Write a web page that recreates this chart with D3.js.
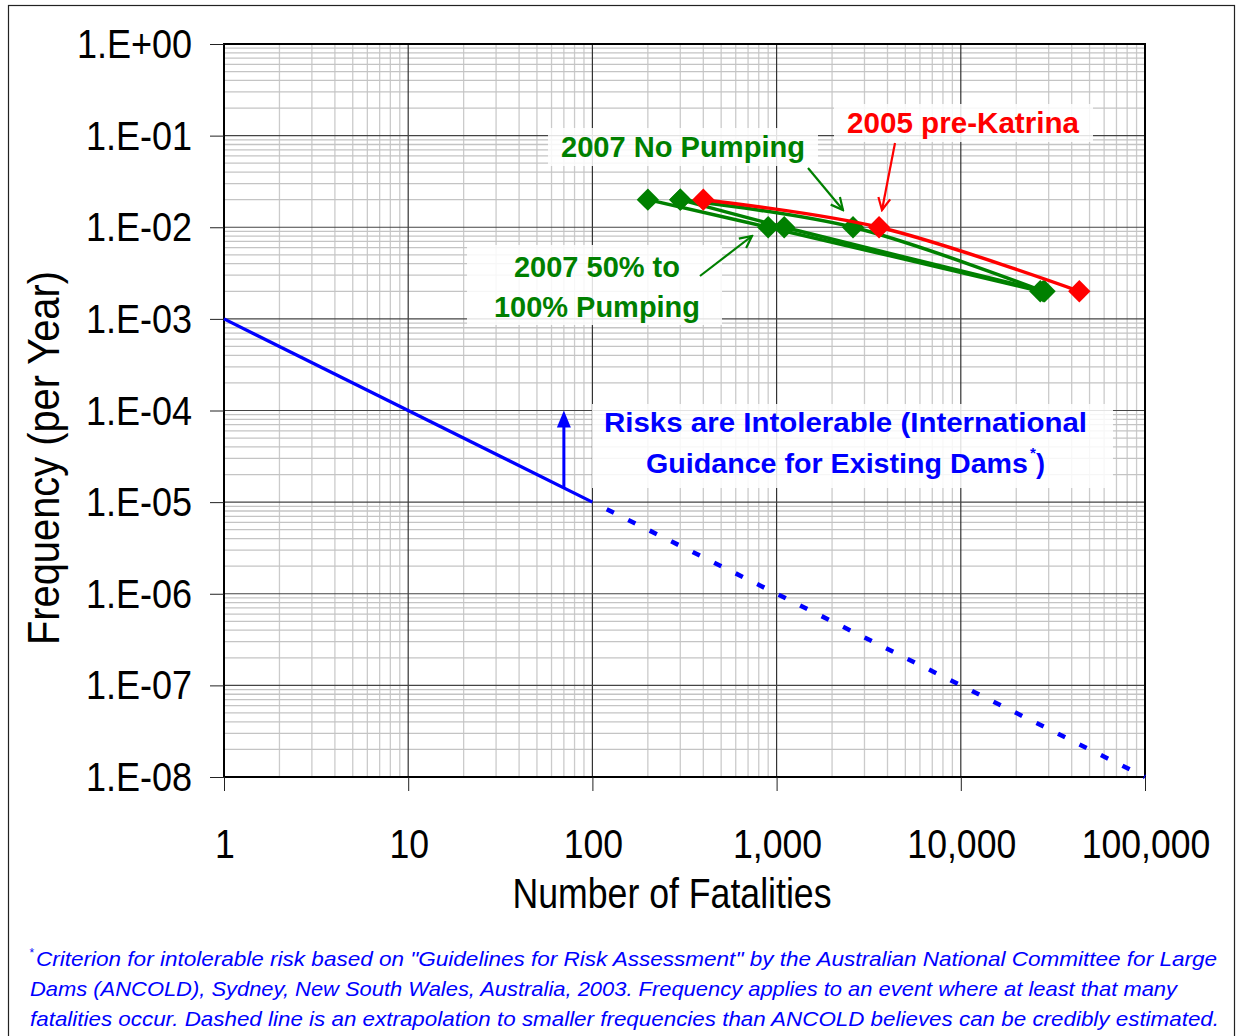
<!DOCTYPE html>
<html>
<head>
<meta charset="utf-8">
<script src="https://cdn.jsdelivr.net/npm/d3@7"></script>
<style>
  body { margin: 0; background: #fff; }
  #chart { width: 1236px; height: 1036px; }
  text { font-family: "Liberation Sans", Arial, sans-serif; }
</style>
</head>
<body>
<div id="chart"></div>
<script>
// ---- data ----
const xTicks = [1, 10, 100, 1000, 10000, 100000];
const yTicks = [1, 1e-1, 1e-2, 1e-3, 1e-4, 1e-5, 1e-6, 1e-7, 1e-8];
const yTickLabels = ['1.E+00','1.E-01','1.E-02','1.E-03','1.E-04','1.E-05','1.E-06','1.E-07','1.E-08'];

const freqLevels = [0.02, 0.01, 0.002];
const fatalRed05 = [400, 3600, 44000];       // 2005 pre-Katrina
const fatalNoPump = [300, 2600, 28000];      // 2007 No Pumping
const fatalPump50 = [200, 900, 27000];       // 2007 50% pumping
const fatalPump100 = [300, 1100, 28500];     // 2007 100% pumping

const ancoldN = [1, 100];                    // ANCOLD limit line
const ancoldF = [1e-3, 1e-5];
const extrapN = [100, 100000];               // dashed extrapolation
const extrapF = [1e-5, 1e-8];
const arrowN = 70;

const footnote = [
  ' Criterion for intolerable risk based on "Guidelines for Risk Assessment" by the Australian National Committee for Large',
  'Dams (ANCOLD), Sydney, New South Wales, Australia, 2003. Frequency applies to an event where at least that many',
  'fatalities occur. Dashed line is an extrapolation to smaller frequencies than ANCOLD believes can be credibly estimated.'
];

const width = 1236, height = 1036;
const plot = {left: 224, right: 1145, top: 44, bottom: 777};

const svg = d3.select('#chart').append('svg')
  .attr('width', width).attr('height', height);

// outer frame
svg.append('rect')
  .attr('x', 8.5).attr('y', 5.5)
  .attr('width', 1226).attr('height', 1040)
  .attr('fill', 'none').attr('stroke', '#222').attr('stroke-width', 1.2);

const x = d3.scaleLog().domain([1, 1e5]).range([plot.left, plot.right]);
const y = d3.scaleLog().domain([1e-8, 1]).range([plot.bottom, plot.top]);

// narrow the glyphs like the original
function narrow(sel, k) {
  sel.each(function () {
    const w = this.getComputedTextLength();
    d3.select(this).attr('textLength', w * k).attr('lengthAdjust', 'spacingAndGlyphs');
  });
}

// ---- grid ----
const minorX = [], minorY = [];
for (let e = 0; e < 5; e++) for (let m = 2; m <= 9; m++) minorX.push(m * Math.pow(10, e));
for (let e = -8; e < 0; e++) for (let m = 2; m <= 9; m++) minorY.push(m * Math.pow(10, e));

const grid = svg.append('g').attr('class', 'grid');
grid.selectAll('.minx').data(minorX).join('line')
  .attr('x1', d => x(d)).attr('x2', d => x(d))
  .attr('y1', plot.top).attr('y2', plot.bottom)
  .attr('stroke', '#cbcbcb').attr('stroke-width', 1.3);
grid.selectAll('.miny').data(minorY).join('line')
  .attr('y1', d => y(d)).attr('y2', d => y(d))
  .attr('x1', plot.left).attr('x2', plot.right)
  .attr('stroke', '#c4c4c4').attr('stroke-width', 1.3);
grid.selectAll('.majx').data(xTicks.slice(1, -1)).join('line')
  .attr('x1', d => x(d)).attr('x2', d => x(d))
  .attr('y1', plot.top).attr('y2', plot.bottom)
  .attr('stroke', '#333').attr('stroke-width', 1.2);
grid.selectAll('.majy').data(yTicks.slice(1, -1)).join('line')
  .attr('y1', d => y(d)).attr('y2', d => y(d))
  .attr('x1', plot.left).attr('x2', plot.right)
  .attr('stroke', '#444').attr('stroke-width', 1.2);

// frame of the plot
svg.append('rect')
  .attr('x', plot.left).attr('y', plot.top)
  .attr('width', plot.right - plot.left).attr('height', plot.bottom - plot.top)
  .attr('fill', 'none').attr('stroke', '#000').attr('stroke-width', 2);

// ---- axes ----
const yAxis = d3.axisLeft(y).tickValues(yTicks).tickSize(14).tickFormat('');
svg.append('g').attr('transform', `translate(${plot.left},0)`).call(yAxis)
  .call(g => g.select('.domain').remove())
  .call(g => g.selectAll('line').attr('stroke', '#222'));
const xAxis = d3.axisBottom(x).tickValues(xTicks).tickSize(14).tickFormat('');
svg.append('g').attr('transform', `translate(0,${plot.bottom})`).call(xAxis)
  .call(g => g.select('.domain').remove())
  .call(g => g.selectAll('line').attr('stroke', '#222'));

svg.append('g').selectAll('text').data(yTicks).join('text')
  .attr('x', 192).attr('y', d => y(d) + 14)
  .attr('text-anchor', 'end').attr('font-size', 40).attr('fill', '#000')
  .text((d, i) => yTickLabels[i])
  .call(narrow, 0.9);

svg.append('g').selectAll('text').data(xTicks).join('text')
  .attr('x', d => x(d) + 1).attr('y', 858)
  .attr('text-anchor', 'middle').attr('font-size', 40).attr('fill', '#000')
  .text(d => d3.format(',')(d))
  .call(narrow, 0.89);

svg.append('text')
  .attr('x', 672).attr('y', 908).attr('text-anchor', 'middle')
  .attr('font-size', 42).attr('fill', '#000')
  .attr('textLength', 319).attr('lengthAdjust', 'spacingAndGlyphs')
  .text('Number of Fatalities');

svg.append('text')
  .attr('transform', 'translate(59,458) rotate(-90)').attr('text-anchor', 'middle')
  .attr('font-size', 45).attr('fill', '#000')
  .attr('textLength', 374).attr('lengthAdjust', 'spacingAndGlyphs')
  .text('Frequency  (per Year)');

// ---- ANCOLD criterion ----
const logLine = d3.line().x(d => x(d[0])).y(d => y(d[1]));
svg.append('path')
  .attr('d', logLine(d3.zip(extrapN, extrapF)))
  .attr('fill', 'none').attr('stroke', '#0000ff').attr('stroke-width', 4.5)
  .attr('stroke-dasharray', '8,16').attr('stroke-dashoffset', -16);
svg.append('path')
  .attr('d', logLine(d3.zip(ancoldN, ancoldF)))
  .attr('fill', 'none').attr('stroke', '#0000ff').attr('stroke-width', 3.3);

const ax = x(arrowN);
const ay0 = y(ancoldF[0] * Math.pow(arrowN / ancoldN[0], Math.log10(ancoldF[1] / ancoldF[0]) / Math.log10(ancoldN[1] / ancoldN[0])));
const ay1 = y(1e-4);
svg.append('line')
  .attr('x1', ax).attr('x2', ax).attr('y1', ay0).attr('y2', ay1 + 12)
  .attr('stroke', '#0000ff').attr('stroke-width', 3);
svg.append('path')
  .attr('d', `M${ax},${ay1} L${ax - 7},${ay1 + 17} L${ax + 7},${ay1 + 17} Z`)
  .attr('fill', '#0000ff');

// ---- label boxes ----
const boxes = [
  {x: 834, y: 104, w: 259, h: 38},
  {x: 548, y: 128, w: 270, h: 38},
  {x: 467, y: 245, w: 255, h: 80},
  {x: 592, y: 404, w: 521, h: 84}
];
svg.append('g').selectAll('rect').data(boxes).join('rect')
  .attr('x', d => d.x).attr('y', d => d.y).attr('width', d => d.w).attr('height', d => d.h)
  .attr('fill', '#fff').attr('opacity', 0.85);

// ---- series ----
const curve = d3.line().x(d => x(d[0])).y(d => y(d[1])).curve(d3.curveCatmullRom.alpha(0.5));
const series = [
  {n: fatalPump100, color: '#008000'},
  {n: fatalPump50, color: '#008000'},
  {n: fatalNoPump, color: '#008000'},
  {n: fatalRed05, color: '#ff0000'}
];
const diamond = d3.symbol(d3.symbolSquare, 250);
series.forEach(s => {
  const pts = d3.zip(s.n, freqLevels);
  svg.append('path').attr('d', curve(pts))
    .attr('fill', 'none').attr('stroke', s.color).attr('stroke-width', 3.5);
  svg.append('g').selectAll('path').data(pts).join('path')
    .attr('d', diamond)
    .attr('transform', d => `translate(${x(d[0])},${y(d[1])}) rotate(45)`)
    .attr('fill', s.color);
});

// ---- annotations ----
const defs = svg.append('defs');
['#008000', '#ff0000'].forEach((c, i) => {
  defs.append('marker').attr('id', 'ah' + i)
    .attr('viewBox', '-14 -8 16 16').attr('refX', 0).attr('refY', 0)
    .attr('markerWidth', 16).attr('markerHeight', 16)
    .attr('markerUnits', 'userSpaceOnUse').attr('orient', 'auto')
    .append('path').attr('d', 'M-12,-6 L0,0 L-12,6')
    .attr('fill', 'none').attr('stroke', c).attr('stroke-width', 2.2);
});
const arrows = [
  {x1: 700, y1: 276, x2: 752, y2: 236, m: 0, c: '#008000'},
  {x1: 808, y1: 168, x2: 843, y2: 210, m: 0, c: '#008000'},
  {x1: 895, y1: 143, x2: 882, y2: 210, m: 1, c: '#ff0000'}
];
svg.append('g').selectAll('line').data(arrows).join('line')
  .attr('x1', d => d.x1).attr('y1', d => d.y1).attr('x2', d => d.x2).attr('y2', d => d.y2)
  .attr('stroke', d => d.c).attr('stroke-width', 2.2)
  .attr('marker-end', d => `url(#ah${d.m})`);

const labels = [
  {t: '2005 pre-Katrina', x: 847, y: 133, w: 232, c: '#ff0000', s: 30},
  {t: '2007 No Pumping', x: 561, y: 157, w: 244, c: '#008000', s: 30},
  {t: '2007 50% to', x: 514, y: 277, w: 166, c: '#008000', s: 30},
  {t: '100% Pumping', x: 494, y: 317, w: 206, c: '#008000', s: 30},
  {t: 'Risks are Intolerable (International', x: 604, y: 432, w: 483, c: '#0000ff', s: 27},
  {t: 'Guidance for Existing Dams', x: 646, y: 473, w: 382, c: '#0000ff', s: 27}
];
svg.append('g').selectAll('text').data(labels).join('text')
  .attr('x', d => d.x).attr('y', d => d.y)
  .attr('font-size', d => d.s).attr('font-weight', 'bold').attr('fill', d => d.c)
  .attr('textLength', d => d.w).attr('lengthAdjust', 'spacingAndGlyphs')
  .text(d => d.t);
svg.append('text').attr('x', 1030).attr('y', 458)
  .attr('font-size', 15).attr('font-weight', 'bold').attr('fill', '#0000ff').text('*');
svg.append('text').attr('x', 1036).attr('y', 473)
  .attr('font-size', 27).attr('font-weight', 'bold').attr('fill', '#0000ff').text(')');

// ---- footnote ----
const footW = [1187, 1147, 1189];
svg.append('text').attr('x', 29).attr('y', 957)
  .attr('font-size', 12).attr('font-style', 'italic').attr('fill', '#0000ff').text('*');
svg.append('g').selectAll('text').data(footnote).join('text')
  .attr('x', (d, i) => i === 0 ? 36 : 30).attr('y', (d, i) => 966 + i * 30)
  .attr('font-size', 21).attr('font-style', 'italic').attr('fill', '#0000ff')
  .attr('textLength', (d, i) => i === 0 ? footW[i] - 6 : footW[i])
  .attr('lengthAdjust', 'spacingAndGlyphs')
  .text(d => d.trim());
</script>
</body>
</html>
